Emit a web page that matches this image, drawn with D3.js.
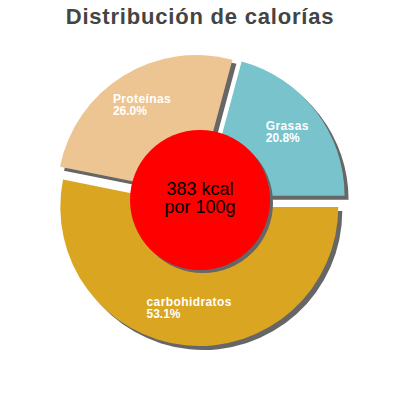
<!DOCTYPE html>
<html>
<head>
<meta charset="utf-8">
<script src="https://cdn.jsdelivr.net/npm/d3@7"></script>
<style>
    body { margin: 0; background: #fff; }
    #chart { width: 400px; height: 400px; }
    text { font-family: "Liberation Sans", Arial, sans-serif; }
</style>
</head>
<body>
<div id="chart"><svg></svg></div>
<script>
// datos
var names = ["Grasas", "carbohidratos", "Proteínas"];
var values = [20.8, 53.1, 26.0];
var colors = ["#79c3cc", "#daa520", "#edc592"];
var title = "Distribución de calorías";
var centerLines = ["383 kcal", "por 100g"];

var W = 400, H = 400;
var CX = 200, CY = 200;
var R = 139;      // radio
var HOLE = 70;    // circulo rojo
var EXPLODE = 7;  // separacion
var LABEL_R = 103;

var svg = d3.select("#chart svg")
    .attr("width", W)
    .attr("height", H);

svg.append("text")
    .attr("x", W / 2)
    .attr("y", 24)
    .attr("text-anchor", "middle")
    .style("font-size", "22px")
    .style("font-weight", "bold")
    .style("letter-spacing", "0.8px")
    .style("fill", "#444")
    .text(title);

// Grasas termina a las 3 en punto
var total = d3.sum(values);
var start = Math.PI / 2 - 2 * Math.PI * values[0] / total;

var pie = d3.pie()
    .sort(null)
    .startAngle(start)
    .endAngle(start + 2 * Math.PI);

var arc = d3.arc().innerRadius(0).outerRadius(R);
var labelArc = d3.arc().innerRadius(LABEL_R).outerRadius(LABEL_R);

var arcs = pie(values);

function shift(d) {
    var a = (d.startAngle + d.endAngle) / 2;
    return [EXPLODE * Math.sin(a), -EXPLODE * Math.cos(a)];
}

var g = svg.append("g")
    .attr("transform", "translate(" + CX + "," + CY + ")");

// sombras
g.selectAll("path.shadow")
    .data(arcs)
    .enter()
    .append("path")
    .attr("class", "shadow")
    .attr("d", arc)
    .attr("fill", "#666")
    .attr("transform", function(d) {
        var s = shift(d);
        return "translate(" + (s[0] + 4) + "," + (s[1] + 4) + ")";
    });

g.selectAll("path.slice")
    .data(arcs)
    .enter()
    .append("path")
    .attr("class", "slice")
    .attr("d", arc)
    .attr("fill", function(d, i) { return colors[i]; })
    .attr("transform", function(d) {
        var s = shift(d);
        return "translate(" + s[0] + "," + s[1] + ")";
    });

// etiquetas
var labels = g.selectAll("text.label")
    .data(arcs)
    .enter()
    .append("text")
    .attr("class", "label")
    .style("font-size", "12px")
    .style("font-weight", "bold")
    .style("fill", "#fff");

labels.append("tspan")
    .attr("class", "name")
    .style("letter-spacing", "0.4px")
    .text(function(d, i) { return names[i]; });
labels.append("tspan")
    .attr("class", "pct")
    .text(function(d) { return d.value.toFixed(1) + "%"; });

labels.each(function(d) {
    var t = d3.select(this);
    var c = labelArc.centroid(d);
    var s = shift(d);
    var w = 0;
    t.selectAll("tspan").each(function() {
        w = Math.max(w, this.getComputedTextLength());
    });
    var x = c[0] + s[0] - w / 2;
    var y = c[1] + s[1];
    t.select(".name").attr("x", x).attr("y", y - 3.5);
    t.select(".pct").attr("x", x).attr("y", y + 8.5);
});

// circulo central
g.append("circle")
    .attr("cx", 3)
    .attr("cy", 3)
    .attr("r", HOLE)
    .attr("fill", "#666");
g.append("circle")
    .attr("r", HOLE)
    .attr("fill", "#ff0000");

g.selectAll("text.center")
    .data(centerLines)
    .enter()
    .append("text")
    .attr("class", "center")
    .attr("text-anchor", "middle")
    .attr("y", function(d, i) { return -5 + i * 18; })
    .style("font-size", "18px")
    .style("fill", "#000")
    .text(function(d) { return d; });
</script>
</body>
</html>
